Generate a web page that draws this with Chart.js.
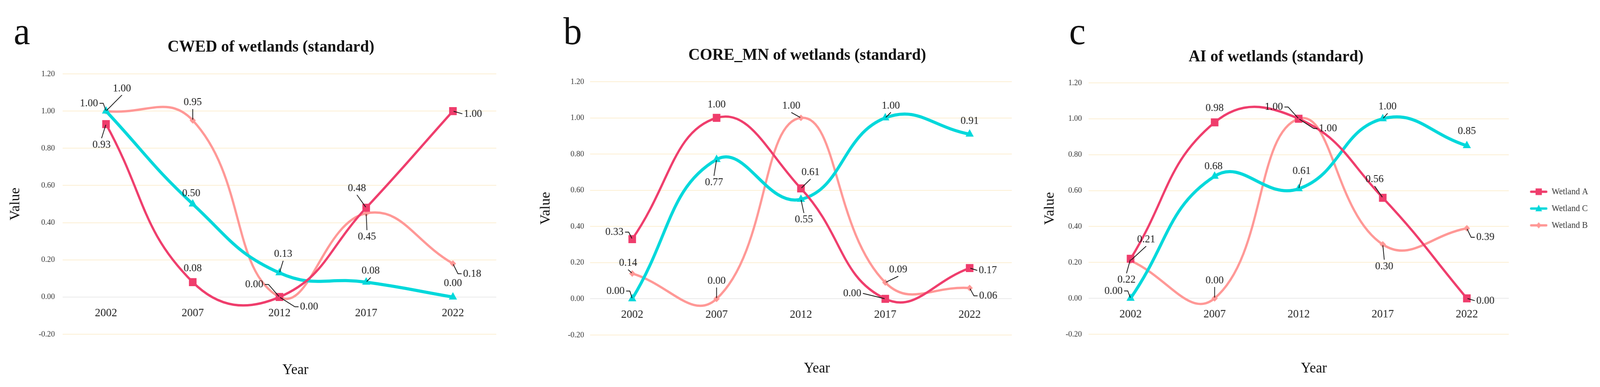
<!DOCTYPE html>
<html>
<head>
<meta charset="utf-8">
<title>Landscape indices of wetlands (standard)</title>
<script src="https://cdn.jsdelivr.net/npm/chart.js@4.4.1/dist/chart.umd.min.js"></script>
<style>
  html, body { margin: 0; padding: 0; background: #fff; overflow: hidden; }
  body { font-family: "Liberation Serif", "Times New Roman", serif; color: #111; }
  #page { position: absolute; left: 0; top: 0; width: 4317px; height: 990px; transform-origin: 0 0; }
  canvas { position: absolute; top: 0; }
  .txt { position: absolute; white-space: nowrap; line-height: 1; transform: translate(-50%, -50%); }
  .letter { font-size: 100px; transform: translateX(-50%); }
  .title { font-size: 43px; font-weight: bold; }
  .xname { font-size: 38px; }
</style>
</head>
<body>
<div id="page">
  <div class="txt letter" style="left:59px;top:30px">a</div>
  <div class="txt letter" style="left:1545px;top:30px">b</div>
  <div class="txt letter" style="left:2907px;top:30px">c</div>

  <div class="txt title" style="left:731px;top:117px">CWED of wetlands (standard)</div>
  <div class="txt title" style="left:2178px;top:138px">CORE_MN of wetlands (standard)</div>
  <div class="txt title" style="left:3443px;top:142px">AI of wetlands (standard)</div>

  <div class="txt xname" style="left:797px;top:944px">Year</div>
  <div class="txt xname" style="left:2204px;top:940px">Year</div>
  <div class="txt xname" style="left:3545px;top:940px">Year</div>

  <canvas id="chartA"></canvas>
  <canvas id="chartB"></canvas>
  <canvas id="chartC"></canvas>
</div>

<script>
// ---- data ----
const years = ['2002', '2007', '2012', '2017', '2022'];
const seriesNames = ['Wetland A', 'Wetland C', 'Wetland B'];
const yMin = -0.2, yMax = 1.2, yStep = 0.2;

// CWED
const cwedA = [0.93, 0.08, 0.00, 0.48, 1.00];
const cwedC = [1.00, 0.50, 0.13, 0.08, 0.00];
const cwedB = [1.00, 0.95, 0.00, 0.45, 0.18];
// CORE_MN
const coreA = [0.33, 1.00, 0.61, 0.00, 0.17];
const coreC = [0.00, 0.77, 0.55, 1.00, 0.91];
const coreB = [0.14, 0.00, 1.00, 0.09, 0.06];
// AI
const aiA = [0.22, 0.98, 1.00, 0.56, 0.00];
const aiC = [0.00, 0.68, 0.61, 1.00, 0.85];
const aiB = [0.21, 0.00, 1.00, 0.30, 0.39];

// the browser may be narrower than the 4317px figure: squeeze horizontally to fit
const fit = Math.min(1, window.innerWidth / 4317);
document.getElementById('page').style.transform = 'scaleX(' + fit + ')';

// ---- label placement: [dx, dy, leader] relative to the point
// leader: 0 none, 1 from label top/bottom, 2 elbow from label side, 3 straight from label side
const spotsA = {
  A: [[-12, 53, 1], [0, -35, 0], [-68, -32, 2], [-25, -50, 1], [54, 7, 3]],
  C: [[43, -58, 1], [-4, -27, 0], [10, -48, 1], [12, -29, 1], [0, -35, 0]],
  B: [[-46, -20, 2], [0, -46, 1], [80, 25, 2], [2, 60, 1], [52, 26, 2]]
};
const spotsB = {
  A: [[-48, -18, 2], [0, -34, 0], [26, -41, 1], [-89, -14, 3], [49, 6, 3]],
  C: [[-45, -20, 2], [-7, 59, 1], [8, 52, 1], [15, -31, 1], [0, -34, 0]],
  B: [[-11, -27, 1], [0, -46, 1], [-26, -31, 1], [35, -33, 1], [50, 20, 2]]
};
const spotsC = {
  A: [[-11, 54, 1], [0, -36, 0], [-67, -30, 2], [-22, -47, 1], [50, 6, 3]],
  C: [[-46, -19, 2], [-3, -25, 0], [8, -45, 1], [13, -31, 1], [0, -37, 0]],
  B: [[42, -54, 1], [0, -46, 1], [79, 25, 2], [4, 56, 1], [50, 23, 2]]
};

const colA = '#EF3D6C', colC = '#00D8DB', colB = '#FF9896';
const serif = 'Liberation Serif';

// draws the value labels with their leader lines
const callouts = {
  id: 'callouts',
  afterDatasetsDraw(chart) {
    const ctx = chart.ctx;
    ctx.save();
    ctx.font = '28px "' + serif + '"';
    ctx.textAlign = 'center';
    ctx.textBaseline = 'middle';
    ctx.strokeStyle = '#111';
    ctx.fillStyle = '#1b1b1b';
    ctx.lineWidth = 2;
    chart.data.datasets.forEach((ds, i) => {
      chart.getDatasetMeta(i).data.forEach((pt, j) => {
        const [dx, dy, kind] = ds.spots[j];
        const text = ds.data[j].toFixed(2);
        const lx = pt.x + dx, ly = pt.y + dy;
        const hw = ctx.measureText(text).width / 2;
        if (kind) {
          const path = [];
          const side = dx < 0 ? 1 : -1;
          if (kind === 1) {
            path.push([lx, ly + (dy < 0 ? 17 : -17)]);
          } else {
            path.push([lx + side * (hw + 4), ly]);
            if (kind === 2) path.push([lx + side * (hw + 14), ly]);
          }
          const last = path[path.length - 1];
          const vx = last[0] - pt.x, vy = last[1] - pt.y;
          const len = Math.hypot(vx, vy) || 1;
          path.push([pt.x + vx / len * 2, pt.y + vy / len * 2]);
          ctx.beginPath();
          ctx.moveTo(path[0][0], path[0][1]);
          for (let k = 1; k < path.length; k++) ctx.lineTo(path[k][0], path[k][1]);
          ctx.stroke();
        }
        ctx.fillText(text, lx, ly);
      });
    });
    ctx.restore();
  }
};

function glyph(color, shape) {
  const c = document.createElement('canvas');
  c.width = 84; c.height = 22;
  const g = c.getContext('2d');
  g.strokeStyle = color; g.fillStyle = color;
  g.lineWidth = 6; g.lineCap = 'round';
  g.beginPath(); g.moveTo(40, 11); g.lineTo(81, 11); g.stroke();
  const cx = 60.5, cy = 11;
  g.beginPath();
  if (shape === 'rect') {
    g.rect(cx - 8.5, cy - 8.5, 17, 17);
  } else if (shape === 'triangle') {
    g.moveTo(cx, cy - 10); g.lineTo(cx + 9, cy + 7); g.lineTo(cx - 9, cy + 7); g.closePath();
  } else {
    g.moveTo(cx, cy - 8); g.lineTo(cx + 7, cy); g.lineTo(cx, cy + 8); g.lineTo(cx - 7, cy); g.closePath();
  }
  g.fill();
  return c;
}
const glyphs = [glyph(colA, 'rect'), glyph(colC, 'triangle'), glyph(colB, 'diamond')];

function makeChart(id, lay, vals, spots, withLegend) {
  const cv = document.getElementById(id);
  cv.width = lay.width;
  cv.height = 990;
  cv.style.left = lay.left + 'px';
  cv.style.width = lay.width + 'px';
  cv.style.height = '990px';

  const line = (name, data, color, width, style, radius, sp) => ({
    label: name, data: data, spots: sp,
    borderColor: color, backgroundColor: color, borderWidth: width,
    pointStyle: style, pointRadius: radius, pointBackgroundColor: color,
    pointBorderColor: color, pointBorderWidth: 0,
    tension: 0.45, fill: false
  });

  return new Chart(cv, {
    type: 'line',
    data: {
      labels: years,
      datasets: [
        line(seriesNames[0], vals[0], colA, 6, 'rect', 14.5, spots.A),
        line(seriesNames[1], vals[1], colC, 8, 'triangle', 12.7, spots.C),
        line(seriesNames[2], vals[2], colB, 6, 'rectRot', 8.5, spots.B)
      ]
    },
    options: {
      responsive: false,
      devicePixelRatio: 1,
      animation: false,
      events: [],
      layout: { padding: { left: 0, top: lay.top, right: lay.padR, bottom: 990 - lay.bottom } },
      plugins: {
        title: { display: false },
        tooltip: { enabled: false },
        legend: {
          display: withLegend,
          position: 'right',
          labels: {
            usePointStyle: true,
            pointStyleWidth: 84,
            padding: 20,
            color: '#333',
            font: { family: serif, size: 23 },
            generateLabels: (chart) => {
              const items = Chart.defaults.plugins.legend.labels.generateLabels(chart);
              items.forEach(it => { it.pointStyle = glyphs[it.datasetIndex]; });
              return items;
            }
          }
        }
      },
      scales: {
        x: {
          type: 'category',
          offset: true,
          position: { y: 0 },
          afterFit: s => { s.height = 0; },
          border: { display: false },
          grid: { display: false, drawTicks: false },
          ticks: { padding: 23, color: '#222', maxRotation: 0, minRotation: 0, autoSkip: false,
                   font: { family: serif, size: 30 } }
        },
        y: {
          min: yMin, max: yMax,
          afterFit: s => { s.width = lay.yWidth; },
          border: { display: false },
          grid: {
            drawTicks: false, lineWidth: 2,
            color: c => Math.abs(c.tick.value) < 1e-9 ? '#EAEAEA' : '#FCEFD3'
          },
          ticks: { stepSize: yStep, padding: lay.tickPad, color: '#333',
                   font: { family: serif, size: 21 },
                   callback: v => (Math.abs(v) < 1e-9 ? 0 : Number(v)).toFixed(2) },
          title: { display: true, text: 'Value', padding: 0, color: '#111',
                   font: { family: serif, size: 37 } }
        }
      }
    },
    plugins: [callouts]
  });
}

makeChart('chartA', { left: 20, width: 1359, padR: 40, top: 189, bottom: 855, yWidth: 149, tickPad: 21 },
  [cwedA, cwedC, cwedB], spotsA, false);
makeChart('chartB', { left: 1451, width: 1319, padR: 40, top: 209, bottom: 857, yWidth: 141, tickPad: 16 },
  [coreA, coreC, coreB], spotsB, false);
makeChart('chartC', { left: 2811, width: 1506, padR: 22, top: 212, bottom: 855, yWidth: 126, tickPad: 18 },
  [aiA, aiC, aiB], spotsC, true);
</script>
</body>
</html>
